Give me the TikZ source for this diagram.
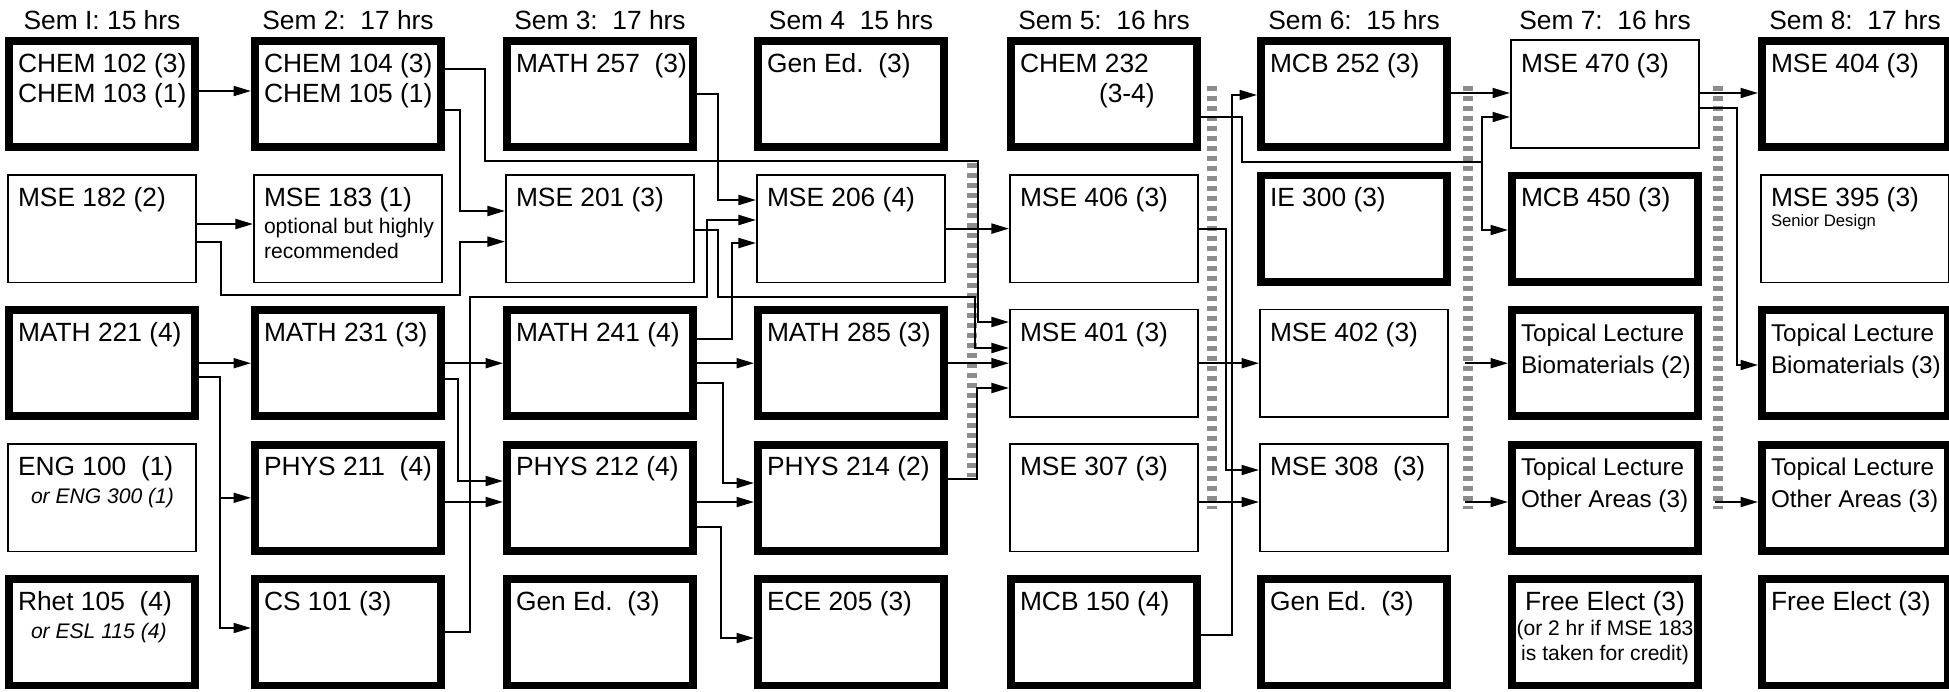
\documentclass[tikz,border=0pt]{standalone}
\usepackage{fontspec}
\setmainfont{Liberation Sans}
\usetikzlibrary{arrows.meta,calc}
\definecolor{DivGray}{HTML}{8C8C8C}
\newcommand{\crsfont}{\fontsize{15}{17.6}\selectfont}
\newcommand{\notefont}{\fontsize{12}{14.2}\selectfont}
\newcommand{\topicfont}{\fontsize{13.8}{18.2}\selectfont}
\newcommand{\designfont}{\fontsize{9.5}{11}\selectfont}
\newcommand{\crs}[2][l]{\makebox[3.36cm][#1]{\parbox[c][1.9cm][t]{4.2cm}{\raggedright\rule{0pt}{0.51cm}#2}}}

\begin{document}
\begin{tikzpicture}[x=0.02cm,y=-0.02cm,
  thickbox/.style={draw,line width=4.4pt,minimum width=3.726cm,minimum height=2.126cm,inner sep=0pt,font=\crsfont},
  thinbox/.style={draw,line width=0.9pt,minimum width=3.77cm,minimum height=2.15cm,inner sep=0pt,font=\crsfont},
  semhead/.style={anchor=base,font=\crsfont},
  arr/.style={-{Triangle[length=0.35cm,width=0.2cm]},line width=1.1pt},
  divider/.style={DivGray,line width=5.5pt,dash pattern=on 0.1cm off 0.1cm}]
  \useasboundingbox (0,0) rectangle (1949,691);

  \node[semhead] (sem1) at (102,29.5) {Sem I: 15 hrs};
  \node[semhead] (sem2) at (348,29.5) {Sem 2:\ \ 17 hrs};
  \node[semhead] (sem3) at (600,29.5) {Sem 3:\ \ 17 hrs};
  \node[semhead] (sem4) at (851,29.5) {Sem 4\ \ 15 hrs};
  \node[semhead] (sem5) at (1104,29.5) {Sem 5:\ \ 16 hrs};
  \node[semhead] (sem6) at (1354,29.5) {Sem 6:\ \ 15 hrs};
  \node[semhead] (sem7) at (1605,29.5) {Sem 7:\ \ 16 hrs};
  \node[semhead] (sem8) at (1855,29.5) {Sem 8:\ \ 17 hrs};

  % semester 1
  \node[thickbox] (chem102) at (102,94) {\crs{CHEM 102 (3)\\CHEM 103 (1)}};
  \node[thinbox] (mse182) at (102,228.6) {\crs{MSE 182 (2)}};
  \node[thickbox] (math221) at (102,363.2) {\crs{MATH 221 (4)}};
  \node[thinbox] (eng100) at (102,497.8) {\crs{ENG 100~~(1)\\[-1.7pt]{\notefont\itshape\hspace*{0.26cm}or ENG 300 (1)}}};
  \node[thickbox] (rhet105) at (102,632.4) {\crs{Rhet 105~~(4)\\[-1.7pt]{\notefont\itshape\hspace*{0.26cm}or ESL 115 (4)}}};
  % semester 2
  \node[thickbox] (chem104) at (348,94) {\crs{CHEM 104 (3)\\CHEM 105 (1)}};
  \node[thinbox] (mse183) at (348,228.6) {\crs{MSE 183 (1)\\[-2.2pt]{\notefont optional but highly}\\[-3.4pt]{\notefont recommended}}};
  \node[thickbox] (math231) at (348,363.2) {\crs{MATH 231 (3)}};
  \node[thickbox] (phys211) at (348,497.8) {\crs{PHYS 211~~(4)}};
  \node[thickbox] (cs101) at (348,632.4) {\crs{CS 101 (3)}};
  % semester 3
  \node[thickbox] (math257) at (600,94) {\crs{MATH 257~~(3)}};
  \node[thinbox] (mse201) at (600,228.6) {\crs{MSE 201 (3)}};
  \node[thickbox] (math241) at (600,363.2) {\crs{MATH 241 (4)}};
  \node[thickbox] (phys212) at (600,497.8) {\crs{PHYS 212 (4)}};
  \node[thickbox] (genedA) at (600,632.4) {\crs{Gen Ed.~~(3)}};
  % semester 4
  \node[thickbox] (genedB) at (851,94) {\crs{Gen Ed.~~(3)}};
  \node[thinbox] (mse206) at (851,228.6) {\crs{MSE 206 (4)}};
  \node[thickbox] (math285) at (851,363.2) {\crs{MATH 285 (3)}};
  \node[thickbox] (phys214) at (851,497.8) {\crs{PHYS 214 (2)}};
  \node[thickbox] (ece205) at (851,632.4) {\crs{ECE 205 (3)}};
  % semester 5
  \node[thickbox] (chem232) at (1104,94) {\crs{CHEM 232\\\hspace*{1.58cm}(3-4)}};
  \node[thinbox] (mse406) at (1104,228.6) {\crs{MSE 406 (3)}};
  \node[thinbox] (mse401) at (1104,363.2) {\crs{MSE 401 (3)}};
  \node[thinbox] (mse307) at (1104,497.8) {\crs{MSE 307 (3)}};
  \node[thickbox] (mcb150) at (1104,632.4) {\crs{MCB 150 (4)}};
  % semester 6
  \node[thickbox] (mcb252) at (1354,94) {\crs{MCB 252 (3)}};
  \node[thickbox] (ie300) at (1354,228.6) {\crs{IE 300 (3)}};
  \node[thinbox] (mse402) at (1354,363.2) {\crs{MSE 402 (3)}};
  \node[thinbox] (mse308) at (1354,497.8) {\crs{MSE 308~~(3)}};
  \node[thickbox] (genedC) at (1354,632.4) {\crs{Gen Ed.~~(3)}};
  % semester 7
  \node[thinbox] (mse470) at (1605,94) {\crs{MSE 470 (3)}};
  \node[thickbox] (mcb450) at (1605,228.6) {\crs{MCB 450 (3)}};
  \node[thickbox] (topbioA) at (1605,363.2) {\crs{\topicfont Topical Lecture\\Biomaterials (2)}};
  \node[thickbox] (topothA) at (1605,497.8) {\crs{\topicfont Topical Lecture\\Other Areas (3)}};
  \node[thickbox] (freeA) at (1605,632.4) {\crs[c]{\centering Free Elect (3)\\[-3.4pt]{\notefont (or 2 hr if MSE 183}\\[-3.4pt]{\notefont is taken for credit)}}};
  % semester 8
  \node[thickbox] (mse404) at (1855,94) {\crs{MSE 404 (3)}};
  \node[thinbox] (mse395) at (1855,228.6) {\crs{MSE 395 (3)\\[-6pt]{\designfont Senior Design}}};
  \node[thickbox] (topbioB) at (1855,363.2) {\crs{\topicfont Topical Lecture\\Biomaterials (3)}};
  \node[thickbox] (topothB) at (1855,497.8) {\crs{\topicfont Topical Lecture\\Other Areas (3)}};
  \node[thickbox] (freeB) at (1855,632.4) {\crs{Free Elect (3)}};

  \foreach \x/\ya/\yb in {972/163/477,1212/86/509,1468/86/509,1718/86/509}
    \draw[divider] (\x,\ya) -- (\x,\yb);
  \coordinate (div67) at (1465,0);
  \coordinate (div78) at (1715,0);

  \draw[arr] ($(chem102.east)+(0,-3)$) -- ($(chem104.west)+(0,-3)$);
  \draw[arr] ($(chem104.east)+(0,-25)$) -| (485,161) -- (978,161) |- ($(mse401.west)+(0,-41.2)$);
  \draw[arr] ($(chem104.east)+(0,16)$) -| (460,211) -- ($(mse201.west)+(0,-17.6)$);
  \draw[arr] ($(mse182.east)+(0,-4.6)$) -- ($(mse183.west)+(0,-4.6)$);
  \draw[arr] ($(mse182.east)+(0,13.4)$) -| (221,295) -| (460,241.6) -- ($(mse201.west)+(0,13)$);
  \draw[arr] (math257.east) -| (718,200) -- ($(mse206.west)+(0,-28.6)$);
  \draw[arr] ($(mse201.east)+(0,1.4)$) -| (718,297) -- (975,297) |- ($(mse401.west)+(0,-15.2)$);
  \draw[arr] (cs101.east) -| (470,297) -| (707,220) -- ($(mse206.west)+(0,-8.6)$);
  \draw[arr] ($(math241.east)+(0,-24.2)$) -| (732,243) -- ($(mse206.west)+(0,14.4)$);
  \draw[arr] (math241.east) -- (math285.west);
  \draw[arr] ($(math241.east)+(0,19.8)$) -| (723,483) -- ($(phys214.west)+(0,-14.8)$);
  \draw[arr] (mse206.east) -- (mse406.west);
  \draw[arr] (math285.east) -- (mse401.west);
  \draw[arr] ($(phys214.east)+(0,-18.8)$) -| (977,388) -- ($(mse401.west)+(0,24.8)$);
  \draw[arr] (math221.east) -- (math231.west);
  \draw[arr] ($(math221.east)+(0,13.8)$) -| (220,497.8) coordinate (j221) -- (phys211.west);
  \draw[arr] (j221) |- ($(cs101.west)+(0,-4.4)$);
  \draw[arr] (math231.east) -- (math241.west);
  \draw[arr] ($(math231.east)+(0,15.8)$) -| (458,481) -- ($(phys212.west)+(0,-16.8)$);
  \draw[arr] ($(phys211.east)+(0,4.2)$) -- ($(phys212.west)+(0,4.2)$);
  \draw[arr] ($(phys212.east)+(0,4.2)$) -- ($(phys214.west)+(0,4.2)$);
  \draw[arr] ($(phys212.east)+(0,29.2)$) -| (721,638) -- ($(ece205.west)+(0,5.6)$);
  \draw[arr] (mse406.east) -| (1226,470) -- ($(mse308.west)+(0,-27.8)$);
  \draw[arr] ($(mcb150.east)+(0,2.6)$) -| (1232,95) -- ($(mcb252.west)+(0,1)$);
  \draw[arr] ($(chem232.east)+(0,23)$) -| (1242,162) -- (1482,162) coordinate (j232) |- ($(mse470.west)+(0,23)$);
  \draw[arr] (j232) |- ($(mcb450.west)+(0,1.4)$);
  \draw[arr] ($(mcb252.east)+(0,-1)$) -- ($(mse470.west)+(0,-1)$);
  \draw[arr] (mse401.east) -- (mse402.west);
  \draw[arr] ($(mse307.east)+(0,4.2)$) -- ($(mse308.west)+(0,4.2)$);
  \draw[arr] (div67 |- topbioA.west) -- (topbioA.west);
  \draw[arr] ($(div67 |- topothA.west)+(0,4.2)$) -- ($(topothA.west)+(0,4.2)$);
  \draw[arr] ($(mse470.east)+(0,-1)$) -- ($(mse404.west)+(0,-1)$);
  \draw[arr] ($(mse470.east)+(0,14)$) -| (1737,365) -- ($(topbioB.west)+(0,1.8)$);
  \draw[arr] ($(div78 |- topothB.west)+(0,4.2)$) -- ($(topothB.west)+(0,4.2)$);
\end{tikzpicture}
\end{document}
